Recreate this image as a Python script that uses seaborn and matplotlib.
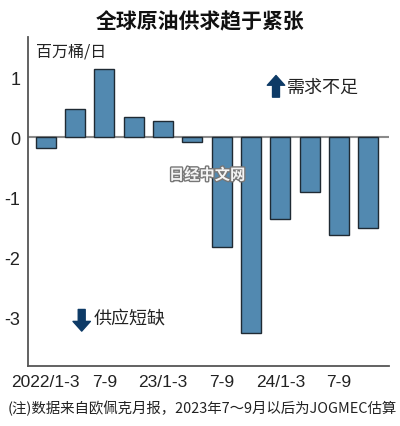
import numpy as np
import pandas as pd
import matplotlib
matplotlib.use("Agg")
import matplotlib.pyplot as plt
import matplotlib.patheffects as pe
import seaborn as sns

# 数据：OPEC月报 供求差（百万桶/日）
quarters = ["22Q1", "22Q2", "22Q3", "22Q4", "23Q1", "23Q2",
            "23Q3", "23Q4", "24Q1", "24Q2", "24Q3", "24Q4"]
balance = [-0.18, 0.48, 1.14, 0.34, 0.28, -0.07,
           -1.82, -3.25, -1.35, -0.90, -1.63, -1.51]
tick_pos = [0, 2, 4, 6, 8, 10]
tick_labels = ["2022/1-3", "7-9", "23/1-3", "7-9", "24/1-3", "7-9"]
y_ticks = [1, 0, -1, -2, -3]

df = pd.DataFrame({"q": quarters, "v": balance})

sns.set_style("white")
cjk = ["Noto Sans CJK SC", "DejaVu Sans"]
num = ["Liberation Sans Narrow", "Liberation Sans", "DejaVu Sans"]
plt.rcParams["font.family"] = cjk

fig = plt.figure(figsize=(4.0, 4.27), dpi=100)
ax = fig.add_axes([0.07, 0.1405, 0.9025, 0.7705])

sns.barplot(data=df, x="q", y="v", color="#5289b0", saturation=1,
            width=0.68, edgecolor="#1f2a33", linewidth=1.0, ax=ax)

ax.axhline(0, color="#8a8a8a", lw=1.5, zorder=0)
ax.set_ylim(-3.8, 1.67)
ax.set_xlim(-0.6, 11.7)
ax.set_yticks(y_ticks)
ax.set_yticklabels([str(t) for t in y_ticks], fontfamily=num, fontsize=13)
ax.set_xticks(range(len(quarters)))
ax.set_xticklabels([tick_labels[tick_pos.index(i)] if i in tick_pos else ""
                    for i in range(len(quarters))], fontfamily=num, fontsize=12.5)
ax.tick_params(axis="both", direction="out", length=4, width=1,
               color="#555555", pad=1.5, labelcolor="#222222")
ax.set_xlabel("")
ax.set_ylabel("")
for s in ["top", "right"]:
    ax.spines[s].set_visible(False)
for s in ["left", "bottom"]:
    ax.spines[s].set_color("#555555")
    ax.spines[s].set_linewidth(1.3)

fig.text(0.5, 0.948, "全球原油供求趋于紧张", ha="center", va="center",
         fontsize=15, fontweight="bold", color="#111111")
fig.text(0.09, 0.878, "百万桶/日", ha="left", va="center",
         fontsize=11.5, color="#222222")
fig.text(0.018, 0.044, "(注)数据来自欧佩克月报，2023年7～9月以后为JOGMEC估算",
         ha="left", va="center", fontsize=10.4, color="#222222")

arrow_c = "#0d3a66"
astyle = "simple,head_width=1.25,head_length=0.7,tail_width=0.5"
ax.annotate("", xy=(7.85, 1.03), xytext=(7.85, 0.67),
            arrowprops=dict(arrowstyle=astyle, fc=arrow_c, ec=arrow_c, shrinkA=0, shrinkB=0))
ax.text(8.22, 0.85, "需求不足", ha="left", va="center", fontsize=13, color="#222222")
ax.annotate("", xy=(1.23, -3.22), xytext=(1.23, -2.86),
            arrowprops=dict(arrowstyle=astyle, fc=arrow_c, ec=arrow_c, shrinkA=0, shrinkB=0))
ax.text(1.62, -3.0, "供应短缺", ha="left", va="center", fontsize=13, color="#222222")

wm = ax.text(5.5, -0.62, "日经中文网", ha="center", va="center", fontsize=11,
             fontweight="bold", color="#f4f4f4")
wm.set_path_effects([pe.withStroke(linewidth=2, foreground="#777777")])

fig.savefig("out.png", dpi=100)
